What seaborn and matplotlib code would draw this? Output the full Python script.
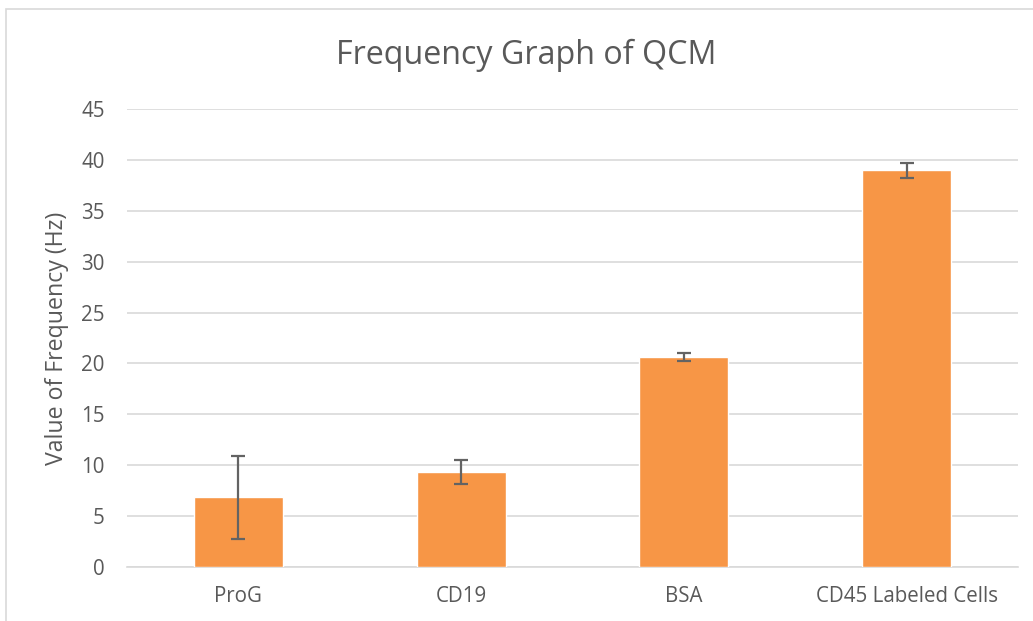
import matplotlib
matplotlib.use("Agg")
import matplotlib.pyplot as plt
import seaborn as sns
import pandas as pd
from matplotlib.patches import Rectangle

categories = ["ProG", "CD19", "BSA", "CD45 Labeled Cells"]
values = [6.85, 9.33, 20.66, 38.97]
errors = [4.1, 1.16, 0.4, 0.74]
yticks = [0, 5, 10, 15, 20, 25, 30, 35, 40, 45]

sns.set_theme(style="white")
plt.rcParams['font.family'] = ['Open Sans', 'DejaVu Sans']

df = pd.DataFrame({"cat": categories, "val": values})

fig = plt.figure(figsize=(10.33, 6.21), dpi=100)
ax = fig.add_axes([127/1033, 1 - 567/621, (1018-127)/1033, (567-109)/621])

sns.barplot(data=df, x="cat", y="val", color="#F79646", saturation=1,
            width=0.4, errorbar=None, ax=ax, zorder=3)
ax.errorbar(range(len(categories)), values, yerr=errors, fmt="none",
            ecolor="#636363", elinewidth=1.6, capsize=5, capthick=1.6, zorder=4)

ax.set_ylim(0, 45)
ax.set_yticks(yticks)
ax.set_xlim(-0.5, len(categories) - 0.5)
ax.yaxis.grid(True, color="#D9D9D9", linewidth=1.2, zorder=0)
ax.set_axisbelow(True)
for s in ["top", "right", "left"]:
    ax.spines[s].set_visible(False)
ax.spines["bottom"].set_color("#D9D9D9")
ax.spines["bottom"].set_linewidth(1.2)
ax.tick_params(axis="both", length=0, labelsize=14.8, colors="#595959")
ax.tick_params(axis="x", pad=14)
ax.tick_params(axis="y", pad=16)
ax.set_xlabel("")
ax.set_ylabel("Value of Frequency (Hz)", fontsize=16.7, color="#595959", labelpad=9)
fig.text(526/1033, 1 - 55/621, "Frequency Graph of QCM", ha="center", va="center",
         fontsize=23.2, color="#595959")

fig.patches.append(Rectangle((6/1033, -0.1), 1.1, 1 - 9/621 + 0.1,
                             transform=fig.transFigure, fill=False,
                             edgecolor="#D9D9D9", linewidth=1.2))

fig.savefig("out.png", dpi=100)
